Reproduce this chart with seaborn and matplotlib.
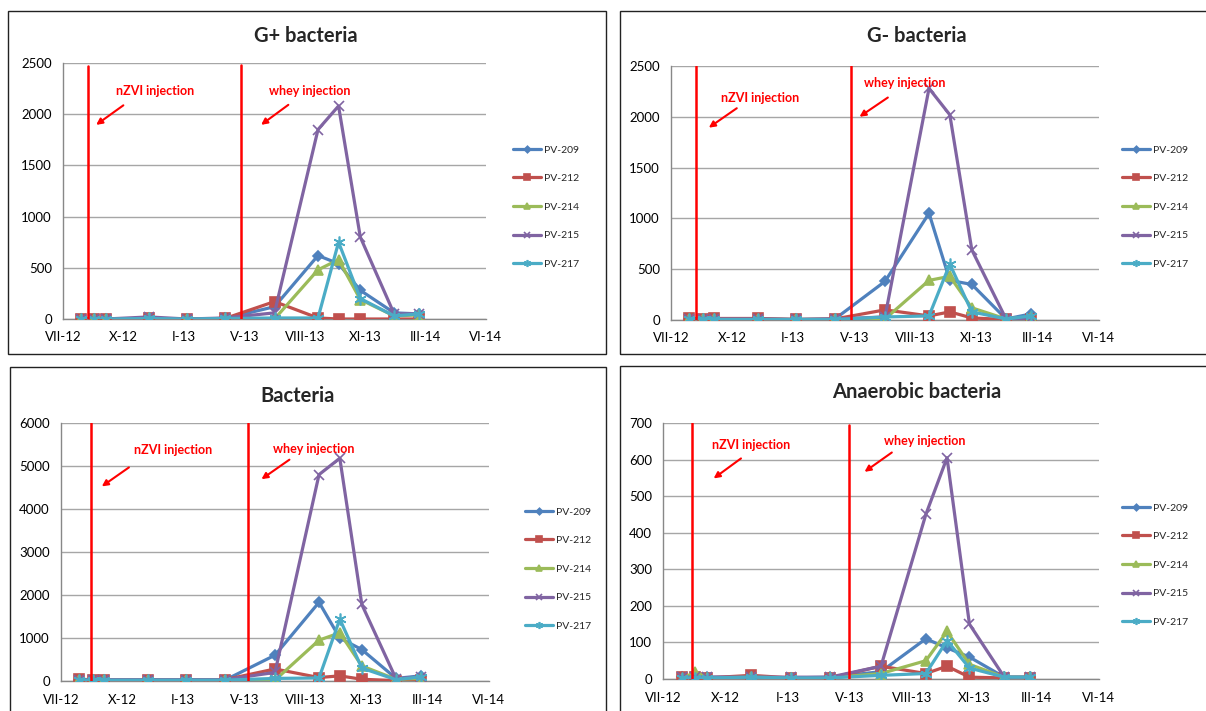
import matplotlib
matplotlib.use('Agg')
import matplotlib.pyplot as plt
import seaborn as sns
import numpy as np
from matplotlib.patches import Rectangle

sns.set_style('white')
plt.rcParams['font.family'] = ['Lato', 'DejaVu Sans']

# sampling dates, in axis units (one unit = one tick interval)
sample_x = [0.30, 0.52, 0.71, 1.42, 2.05, 2.68, 3.50, 4.22, 4.56, 4.92, 5.48, 5.89]
tick_labels = ['VII-12', 'X-12', 'I-13', 'V-13', 'VIII-13', 'XI-13', 'III-14', 'VI-14']
wells = ['PV-209', 'PV-212', 'PV-214', 'PV-215', 'PV-217']

# G+ bacteria
gp_209 = [0, 0, 0, 5, 0, 5, 120, 620, 540, 280, 60, 50]
gp_212 = [0, 0, 0, 5, 0, 5, 170, 10, 0, 0, 0, 0]
gp_214 = [0, 0, 0, 5, 0, 0, 0, 480, 580, 190, 30, 40]
gp_215 = [0, 0, 0, 20, 0, 10, 60, 1850, 2080, 800, 50, 50]
gp_217 = [0, 0, 0, 5, 0, 5, 10, 10, 750, 200, 30, 50]

# G- bacteria
gn_209 = [10, 10, 10, 10, 5, 10, 380, 1050, 390, 350, 10, 60]
gn_212 = [15, 5, 15, 15, 5, 10, 100, 40, 80, 20, 5, 10]
gn_214 = [5, 5, 5, 5, 5, 5, 10, 390, 430, 120, 10, 30]
gn_215 = [10, 10, 10, 10, 5, 10, 30, 2280, 2020, 690, 10, 20]
gn_217 = [5, 5, 5, 5, 5, 5, 30, 40, 550, 80, 10, 40]

# total bacteria
bt_209 = [30, 20, 20, 20, 20, 20, 600, 1830, 1000, 730, 60, 120]
bt_212 = [40, 30, 30, 30, 30, 30, 280, 80, 120, 40, 10, 30]
bt_214 = [20, 20, 20, 20, 20, 20, 20, 950, 1120, 350, 40, 60]
bt_215 = [30, 30, 30, 30, 30, 30, 200, 4800, 5180, 1780, 50, 100]
bt_217 = [20, 20, 20, 20, 20, 20, 60, 70, 1440, 300, 30, 100]

# anaerobic bacteria
an_209 = [5, 5, 5, 5, 3, 5, 20, 110, 85, 60, 5, 5]
an_212 = [5, 5, 3, 10, 3, 3, 35, 15, 35, 5, 3, 3]
an_214 = [0, 20, 3, 5, 3, 3, 15, 50, 130, 40, 5, 5]
an_215 = [5, 5, 5, 5, 5, 5, 35, 450, 605, 150, 5, 5]
an_217 = [3, 3, 3, 5, 3, 3, 10, 15, 105, 30, 5, 5]

colors = ['#4F81BD', '#C0504D', '#9BBB59', '#8064A2', '#4BACC6']
markers = ['D', 's', '^', 'x', (6, 2, 0)]
msizes = [5.5, 7, 7.5, 7.5, 8.5]

W, H = 1206, 711
fig = plt.figure(figsize=(W / 100, H / 100), dpi=100)


def rect(l, t, r, b):
    return [l / W, 1 - b / H, (r - l) / W, (b - t) / H]


panels = [
    # title, series, ymax, ystep, frame, axes box, title pos, legend (x, y), annotation layout
    dict(title='G+ bacteria', data=[gp_209, gp_212, gp_214, gp_215, gp_217], ymax=2500, step=500,
         frame=(8, 11, 606, 354), box=(63, 63, 486, 319), tpos=(306, 36), leg=(513, 207),
         lines=[(0.058, 0.987), (0.421, 0.993)],
         txt=[(0.217, 0.889), (0.584, 0.889)],
         arr=[((0.148, 0.841), (0.073, 0.752)), ((0.538, 0.843), (0.463, 0.752))]),
    dict(title='G- bacteria', data=[gn_209, gn_212, gn_214, gn_215, gn_217], ymax=2500, step=500,
         frame=(620, 11, 1212, 354), box=(671, 66, 1099, 320), tpos=(917, 36), leg=(1122, 207),
         lines=[(0.058, 1.0), (0.421, 1.0)],
         txt=[(0.208, 0.875), (0.547, 0.934)],
         arr=[((0.159, 0.840), (0.083, 0.751)), ((0.512, 0.882), (0.435, 0.794))]),
    dict(title='Bacteria', data=[bt_209, bt_212, bt_214, bt_215, bt_217], ymax=6000, step=1000,
         frame=(10, 367, 606, 715), box=(61, 423, 489, 681), tpos=(298, 396), leg=(525, 569),
         lines=[(0.069, 1.0), (0.436, 1.0)],
         txt=[(0.262, 0.896), (0.590, 0.900)],
         arr=[((0.164, 0.834), (0.090, 0.748)), ((0.539, 0.864), (0.463, 0.776))]),
    dict(title='Anaerobic bacteria', data=[an_209, an_212, an_214, an_215, an_217], ymax=700, step=100,
         frame=(620, 366, 1212, 715), box=(663, 423, 1099, 679), tpos=(917, 392), leg=(1122, 565),
         lines=[(0.067, 1.0), (0.426, 0.991)],
         txt=[(0.203, 0.913), (0.601, 0.930)],
         arr=[((0.184, 0.868), (0.111, 0.777)), ((0.530, 0.891), (0.457, 0.803))]),
]

for p in panels:
    l, t, r, b = p['frame']
    fig.add_artist(Rectangle((l / W, 1 - b / H), (r - l) / W, (b - t) / H,
                             transform=fig.transFigure, fill=False, ec='#222222', lw=1.0))

    ax = fig.add_axes(rect(*p['box']))
    for name, vals, c, m, ms in zip(wells, p['data'], colors, markers, msizes):
        sns.lineplot(x=sample_x, y=vals, ax=ax, color=c, lw=2.3, marker=m, markersize=ms,
                     mec=c, mew=1.2, label=name, sort=False, zorder=3)

    ax.set_xlim(0, 7)
    ax.set_ylim(0, p['ymax'])
    ax.set_xticks(range(8))
    ax.set_xticklabels(tick_labels)
    ax.set_yticks(np.arange(0, p['ymax'] + 1, p['step']))
    ax.tick_params(axis='both', length=0, labelsize=9.5, colors='black')
    ax.tick_params(axis='y', pad=8)
    ax.tick_params(axis='x', pad=9)
    ax.yaxis.grid(True, color='#a6a6a6', lw=1.0)
    ax.xaxis.grid(False)
    for s in ['top', 'right']:
        ax.spines[s].set_visible(False)
    for s in ['left', 'bottom']:
        ax.spines[s].set_color('#888888')
        ax.spines[s].set_linewidth(1.0)

    # injection markers
    for (xf, top) in p['lines']:
        ax.plot([xf, xf], [0, top], transform=ax.transAxes, color='red', lw=1.8, zorder=4)
    for (xt, yt), label in zip(p['txt'], ['nZVI injection', 'whey injection']):
        ax.text(xt, yt, label, transform=ax.transAxes, color='red', fontsize=9,
                fontweight='bold', ha='center', va='center')
    for tail, head in p['arr']:
        ax.annotate('', xy=head, xytext=tail, xycoords='axes fraction', textcoords='axes fraction',
                    arrowprops=dict(arrowstyle='-|>', color='red', lw=1.5, mutation_scale=9))

    lx, ly = p['leg']
    ax.legend(loc='center left', bbox_to_anchor=(lx / W, 1 - ly / H), bbox_transform=fig.transFigure,
              frameon=False, fontsize=7.5, handlelength=2.7, handletextpad=0.3, markerscale=0.6,
              labelspacing=1.85, borderpad=0, borderaxespad=0)

    tx, ty = p['tpos']
    fig.text(tx / W, 1 - ty / H, p['title'], ha='center', va='center', fontsize=14.5, fontweight='bold')

fig.savefig('out.png', dpi=100)
plt.close()
